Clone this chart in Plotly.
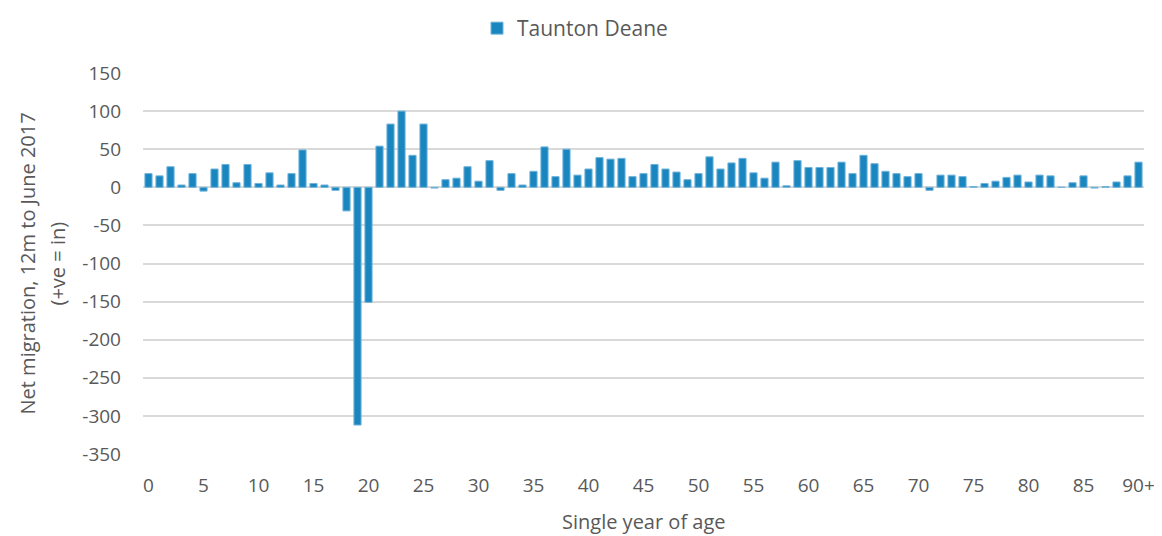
import plotly.graph_objects as go

ages = [str(i) for i in range(90)] + ["90+"]
net_migration = [18, 15, 27, 3, 18, -5, 24, 30, 6, 30,
                 5, 19, 3, 18, 49, 5, 3, -4, -31, -312,
                 -151, 54, 83, 100, 42, 83, -1, 10, 12, 27,
                 8, 35, -4, 18, 3, 21, 53, 14, 50, 16,
                 24, 39, 37, 38, 14, 18, 30, 24, 20, 10,
                 18, 40, 24, 32, 38, 19, 12, 33, 2, 35,
                 26, 26, 26, 33, 18, 42, 31, 21, 18, 14,
                 18, -4, 16, 16, 14, 1, 5, 8, 13, 16,
                 7, 16, 15, 0, 6, 15, -1, 1, 7, 15, 33]
x_tick_labels = [str(i) for i in range(0, 90, 5)] + ["90+"]
y_ticks = list(range(-350, 151, 50))
y_tick_labels = [str(v) for v in y_ticks]  # plain hyphen minus, as in the reference

font_family = "Open Sans, Liberation Sans, sans-serif"
grey = "#595959"

# The page body has an 8px margin, so the figure is laid out 8px in from the window edge.
W, H = 1154, 528
L, R, T, B = 135, 18, 65, 82
PH = H - T - B
PW = W - L - R

fig = go.Figure()
fig.add_trace(go.Bar(
    x=ages, y=net_migration, name="Taunton Deane",
    marker=dict(color="#1a86bf", line=dict(color="#6fb3da", width=1)),
))

fig.update_layout(
    width=W, height=H,
    margin=dict(l=L, r=R, t=T, b=B, autoexpand=False),
    paper_bgcolor="white", plot_bgcolor="white",
    bargap=0.35,
    showlegend=True,
    legend=dict(orientation="h", xref="container", yref="container",
                x=469 / W, xanchor="left", y=1, yanchor="top",
                font=dict(family=font_family, size=21, color=grey),
                itemwidth=30, bgcolor="rgba(0,0,0,0)"),
    font=dict(family=font_family, size=19, color=grey),
    xaxis=dict(
        type="category", tickmode="array", tickvals=x_tick_labels, ticktext=x_tick_labels,
        showgrid=False, showline=False, ticks="", automargin=False,
        ticklabelstandoff=18,
        tickfont=dict(size=19, color=grey),
        title=dict(text=""),
    ),
    yaxis=dict(
        range=[-350, 150], tickmode="array", tickvals=y_ticks, ticktext=y_tick_labels,
        showgrid=True, gridcolor="#d9d9d9", gridwidth=1.5,
        zeroline=True, zerolinecolor="#d9d9d9", zerolinewidth=1.5,
        tickfont=dict(size=19, color=grey), ticks="", automargin=False,
        ticklabelstandoff=21,
        title=dict(text=""),
    ),
    annotations=[
        dict(text="Single year of age", xref="paper", yref="paper",
             x=(636 - L) / PW, y=-(513 - (H - B)) / PH, xanchor="center", yanchor="middle",
             showarrow=False, font=dict(size=20, color=grey)),
        dict(text="Net migration, 12m to June 2017", xref="paper", yref="paper",
             x=(19 - L) / PW, y=0.5, xanchor="center", yanchor="middle",
             textangle=-90, showarrow=False, font=dict(size=20, color=grey)),
        dict(text="(+ve = in)", xref="paper", yref="paper",
             x=(49 - L) / PW, y=0.5, xanchor="center", yanchor="middle",
             textangle=-90, showarrow=False, font=dict(size=20, color=grey)),
    ],
)

fig.write_html("out.html")
